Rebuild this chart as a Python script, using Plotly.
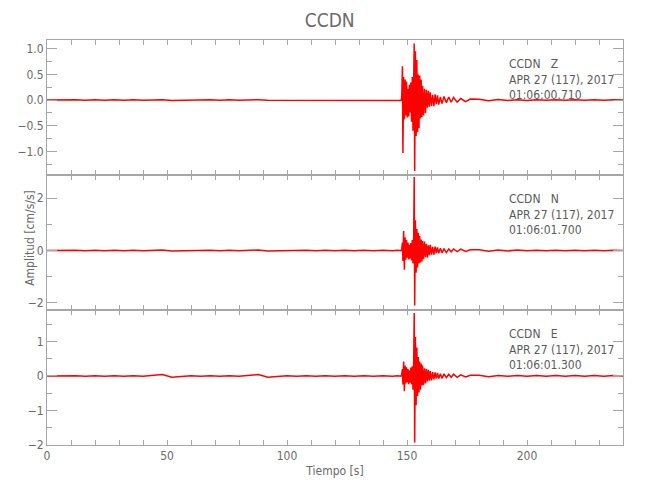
import plotly.graph_objects as go
from plotly.subplots import make_subplots

# ---------------- data ----------------
station = "CCDN"
components = ["Z", "N", "E"]
date_label = "APR 27 (117), 2017"
start_times = ["01:06:00.710", "01:06:01.700", "01:06:01.300"]

# time samples [s]
t_pre = [0, 4, 8, 12, 16, 20, 24, 28, 32, 36, 40, 44, 48, 52, 56, 60, 64, 68, 72, 76,
         80, 84, 88, 92, 96, 100, 104, 108, 112, 116, 120, 124, 128, 132, 136, 140, 144, 146, 147.5]
t_burst = [147.8, 148.1, 148.3, 148.6, 148.9, 149.2, 149.5, 149.8, 150.1, 150.4,
           150.7, 151.0, 151.3, 151.6, 151.9, 152.2, 152.5, 152.8, 153.0, 153.2,
           153.5, 153.8, 154.1, 154.4, 154.7, 155.0, 155.3, 155.6, 155.9, 156.2,
           156.5, 156.9, 157.3, 157.7, 158.1, 158.5, 158.9, 159.3, 159.7, 160.2,
           160.7, 161.2, 161.7, 162.2, 162.7, 163.2, 163.9, 164.6, 165.4, 166.4,
           167.4, 168.4, 169.4, 170.9, 172.4, 174.4, 176.4]
t_tail = [180, 184, 188, 192, 196, 200, 204, 208, 212, 216, 220, 224, 228, 232, 236, 240]

# Z component [cm/s/s]
z_pre = [0.000, 0.004, -0.004, 0.004, -0.004, 0.004, -0.004, 0.004, -0.004, 0.004,
         -0.004, 0.004, 0.008, -0.008, -0.004, 0.004, -0.004, 0.004, -0.004, 0.004,
         -0.004, 0.004, 0.008, -0.004, -0.004, 0.004, -0.004, 0.004, -0.004, 0.004,
         -0.004, 0.004, -0.004, 0.004, -0.004, 0.004, -0.004, 0.004, -0.010]
z_burst = [0.05, 0.66, -1.03, 0.45, -0.38, 0.40, -0.30, 0.36, -0.34, 0.22,
           -0.32, 0.30, -0.24, 0.34, -0.42, 0.45, -0.60, 0.55, 1.10, -1.38,
           0.95, -0.70, 0.78, -0.62, 0.50, -0.55, 0.48, -0.36, 0.40, -0.33,
           0.28, -0.30, 0.22, -0.25, 0.20, -0.15, 0.18, -0.13, 0.15, -0.12,
           0.10, -0.12, 0.11, -0.08, 0.09, -0.09, 0.06, -0.07, 0.07, -0.05,
           0.06, -0.04, 0.05, -0.04, 0.03, -0.03, 0.02]
z_tail = [0.015, -0.015, 0.012, -0.008, 0.008, -0.008, 0.006, -0.006, 0.006, -0.006,
          0.006, -0.006, 0.006, -0.006, 0.006, 0.000]

# N component [cm/s/s]
n_pre = [0.000, 0.008, -0.008, 0.008, -0.008, 0.008, -0.008, 0.008, -0.008, 0.008,
         -0.008, 0.008, 0.020, -0.015, -0.008, 0.008, -0.008, 0.008, -0.008, 0.008,
         -0.008, 0.008, 0.020, -0.015, -0.008, 0.008, -0.008, 0.008, -0.008, 0.008,
         -0.008, 0.008, -0.008, 0.008, -0.008, 0.008, -0.008, 0.008, -0.010]
n_burst = [0.05, 0.30, -0.40, 0.74, -0.73, 0.50, -0.35, 0.40, -0.28, 0.30,
           -0.34, 0.22, -0.30, 0.28, -0.38, 0.40, -0.50, 0.60, 2.80, -2.10,
           1.15, -0.85, 0.82, -0.65, 0.68, -0.50, 0.55, -0.46, 0.42, -0.42,
           0.36, -0.33, 0.34, -0.25, 0.26, -0.27, 0.20, -0.18, 0.22, -0.16,
           0.14, -0.16, 0.15, -0.10, 0.12, -0.11, 0.09, -0.09, 0.07, -0.08,
           0.06, -0.05, 0.06, -0.04, 0.05, -0.04, 0.03]
n_tail = [0.03, -0.03, 0.02, -0.015, 0.015, -0.01, 0.01, -0.01, 0.01, -0.01,
          0.01, -0.01, 0.01, -0.01, 0.01, 0.00]

# E component [cm/s/s]
e_pre = [0.000, 0.006, -0.006, 0.006, -0.006, 0.006, -0.006, 0.006, -0.006, 0.006,
         -0.006, 0.006, 0.040, -0.040, -0.006, 0.006, -0.006, 0.006, -0.006, 0.006,
         -0.006, 0.006, 0.040, -0.040, -0.006, 0.006, -0.006, 0.006, -0.006, 0.006,
         -0.006, 0.006, -0.006, 0.006, -0.006, 0.006, -0.006, 0.006, -0.010]
e_burst = [0.05, 0.20, -0.25, 0.42, -0.44, 0.30, -0.22, 0.25, -0.18, 0.20,
           -0.24, 0.16, -0.20, 0.24, -0.25, 0.28, -0.40, 0.45, 1.82, -1.93,
           1.13, -0.85, 0.82, -0.58, 0.55, -0.48, 0.42, -0.40, 0.36, -0.28,
           0.30, -0.27, 0.22, -0.22, 0.20, -0.16, 0.18, -0.14, 0.14, -0.13,
           0.11, -0.10, 0.10, -0.08, 0.09, -0.08, 0.06, -0.07, 0.06, -0.05,
           0.05, -0.04, 0.05, -0.04, 0.03, -0.03, 0.02]
e_tail = [0.02, -0.02, 0.015, -0.01, 0.01, -0.01, 0.01, -0.01, 0.01, -0.01,
          0.01, -0.01, 0.01, -0.01, 0.01, 0.00]

times = t_pre + t_burst + t_tail
series = [z_pre + z_burst + z_tail, n_pre + n_burst + n_tail, e_pre + e_burst + e_tail]

# axis setup per panel
y_ranges = [[-1.46, 1.17], [-2.27, 2.88], [-2.001, 1.91]]
y_dticks = [0.5, 2, 1]
y_minor = [0.25, 1, 0.5]
y_formats = [".1f", "d", "d"]

# ---------------- figure ----------------
FONT = "DejaVu Sans Condensed, Liberation Sans Narrow, sans-serif"
AXIS_COL = "#a6a6a6"
TXT_COL = "#6a6a6a"

fig = make_subplots(rows=3, cols=1, shared_xaxes=True, vertical_spacing=0)

nb = "\u00a0"
for i, vals in enumerate(series):
    fig.add_trace(go.Scatter(x=times, y=vals, mode="lines",
                             line=dict(color="#ff0000", width=1.5),
                             showlegend=False, hoverinfo="skip"),
                  row=i + 1, col=1)
    fig.update_yaxes(range=y_ranges[i], dtick=y_dticks[i], tick0=0,
                     tickformat=y_formats[i], automargin=False,
                     ticks="inside", ticklen=10, tickcolor=AXIS_COL,
                     minor=dict(dtick=y_minor[i], tick0=0, ticks="inside",
                                ticklen=5, tickcolor=AXIS_COL),
                     showline=True, linecolor=AXIS_COL, linewidth=1, mirror="ticks",
                     showgrid=False, zeroline=False,
                     tickfont=dict(family=FONT, size=12, color=TXT_COL),
                     row=i + 1, col=1)
    fig.update_xaxes(range=[0, 240], dtick=50, tick0=0, automargin=False,
                     ticks="inside", ticklen=5, tickcolor=AXIS_COL,
                     minor=dict(dtick=10, tick0=0, ticks="inside", ticklen=5,
                                tickcolor=AXIS_COL),
                     showline=True, linecolor=AXIS_COL, linewidth=1, mirror="ticks",
                     showgrid=False, zeroline=False,
                     tickfont=dict(family=FONT, size=12, color=TXT_COL),
                     row=i + 1, col=1)
    fig.add_annotation(
        text=f"{station}{nb*3}{components[i]}<br>{date_label}<br>{start_times[i]}",
        xref=f"x{i + 1 if i else ''}", yref=f"y{i + 1 if i else ''} domain",
        x=191.7, y=0.89, xanchor="left", yanchor="top", align="left",
        showarrow=False, font=dict(family=FONT, size=12, color="#5a5a5a"))

fig.update_xaxes(title=dict(text="Tiempo [s]", standoff=4,
                            font=dict(family=FONT, size=12, color=TXT_COL)),
                 row=3, col=1)

fig.add_annotation(text="Amplitud [cm/s/s]", xref="paper", yref="paper",
                   x=-0.031, y=0.512, textangle=-90, showarrow=False,
                   xanchor="center", yanchor="middle",
                   font=dict(family=FONT, size=12, color=TXT_COL))

fig.update_layout(
    width=650, height=500,
    margin=dict(l=39, r=35, t=32, b=63, autoexpand=False),
    paper_bgcolor="white", plot_bgcolor="white",
    title=dict(text=station, x=0.495, xanchor="center", y=0.976, yanchor="middle",
               font=dict(family=FONT, size=19, color=TXT_COL)),
)

fig.write_html("out.html")
